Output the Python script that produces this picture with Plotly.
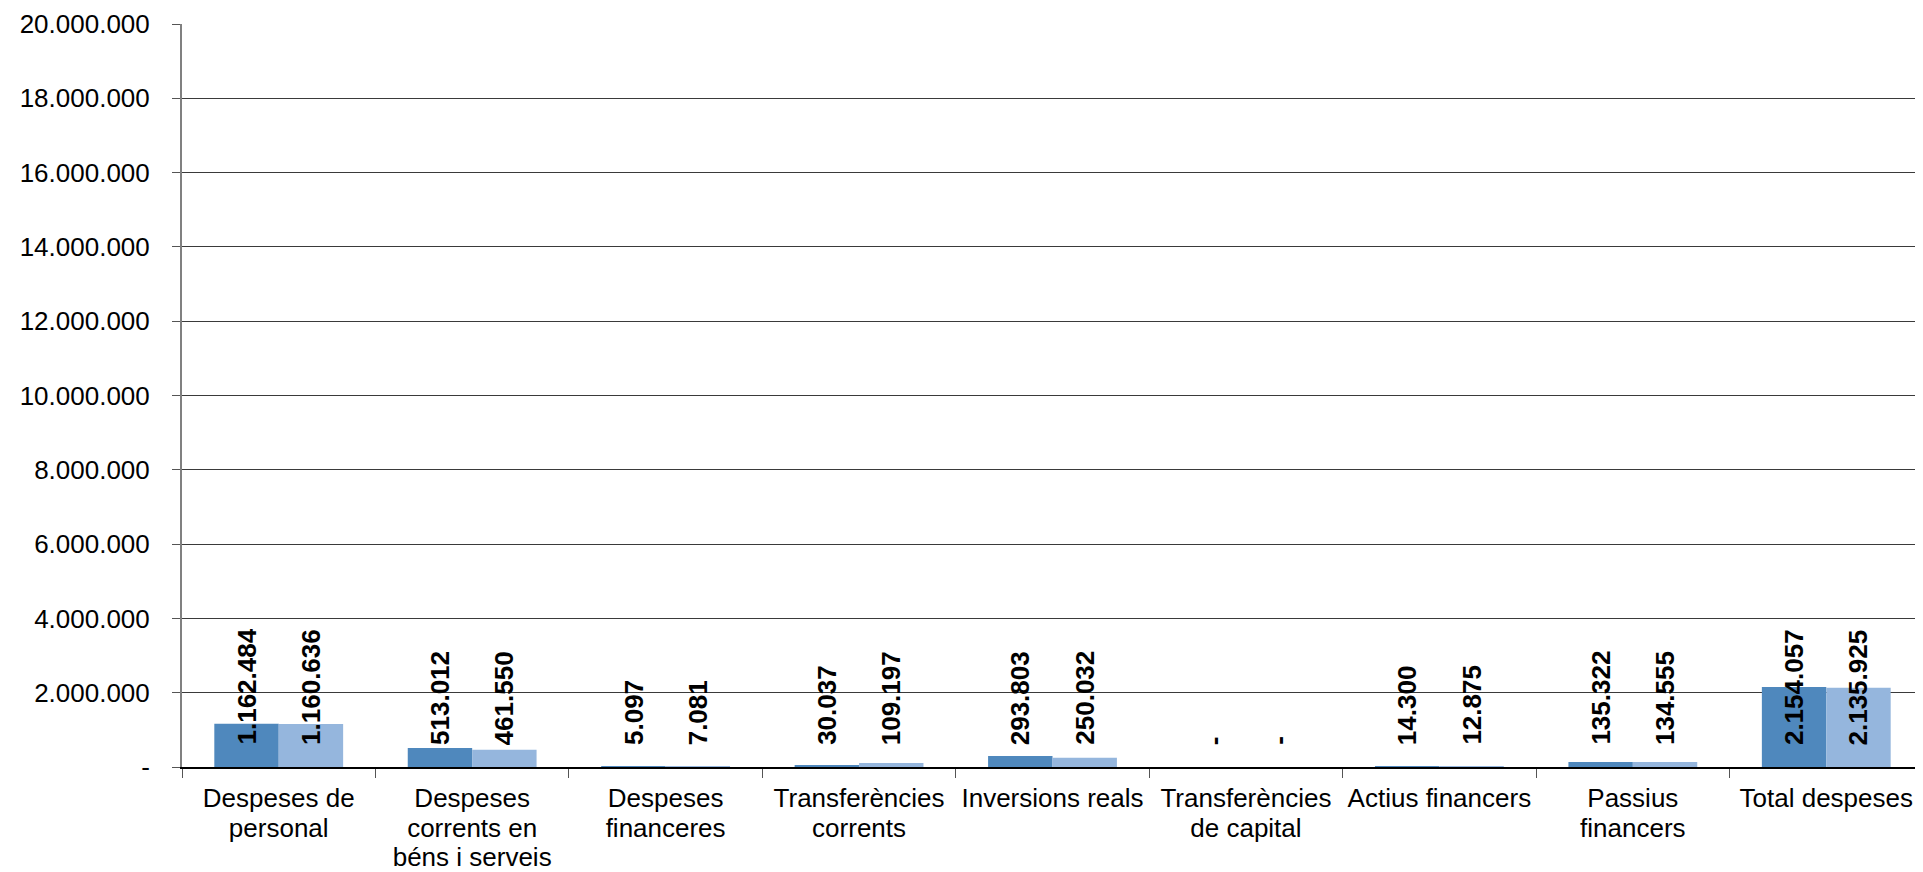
import plotly.graph_objects as go

categories = [
    "Despeses de<br>personal",
    "Despeses<br>corrents en<br>béns i serveis",
    "Despeses<br>financeres",
    "Transferències<br>corrents",
    "Inversions reals",
    "Transferències<br>de capital",
    "Actius financers",
    "Passius<br>financers",
    "Total despeses",
]
serie_1 = [1162484, 513012, 5097, 30037, 293803, 0, 14300, 135322, 2154057]
serie_2 = [1160636, 461550, 7081, 109197, 250032, 0, 12875, 134555, 2135925]
y_ticks = [0, 2000000, 4000000, 6000000, 8000000, 10000000,
           12000000, 14000000, 16000000, 18000000, 20000000]

FONT = "Liberation Sans, Arial, sans-serif"
C1 = "#4F88BD"
C2 = "#95B6DD"
BARGAP = 0.334


def fmt(v):
    if v == 0:
        return "-"
    return f"{v:,.0f}".replace(",", ".")


def cat_label(c):
    return "<br>".join(f'<span style="font-size:26px">{p}</span>' for p in c.split("<br>"))


fig = go.Figure()
fig.add_trace(go.Bar(x=categories, y=serie_1, marker=dict(color=C1, line=dict(width=0)),
                     hoverinfo="y"))
fig.add_trace(go.Bar(x=categories, y=serie_2, marker=dict(color=C2, line=dict(width=0)),
                     hoverinfo="y"))

# data labels (Excel "inside base" style): all start at the base of the bars
off = (1 - BARGAP) / 4
annotations = []
for i in range(len(categories)):
    for v, dx in ((serie_1[i], -off), (serie_2[i], off)):
        annotations.append(dict(
            x=i + dx, y=0, xref="x", yref="y",
            text=fmt(v), textangle=-90, showarrow=False,
            yanchor="bottom", xanchor="center", yshift=20,
            font=dict(family=FONT, size=26, color="#000000", weight="bold"),
        ))

fig.update_layout(
    barmode="group",
    bargap=BARGAP,
    bargroupgap=0,
    showlegend=False,
    width=1915,
    height=864,
    margin=dict(l=174, r=0, t=16, b=105, pad=0),
    plot_bgcolor="white",
    paper_bgcolor="white",
    font=dict(family=FONT, size=26, color="#000000"),
    annotations=annotations,
)
fig.update_xaxes(
    type="category",
    tickvals=categories,
    ticktext=[cat_label(c) for c in categories],
    showline=True, linecolor="#000000", linewidth=2,
    ticks="outside", tickson="boundaries", ticklen=9, tickcolor="#555555", tickwidth=1,
    ticklabelstandoff=10,
    showgrid=False,
    tickfont=dict(family=FONT, size=23, color="#000000"),
)
fig.update_yaxes(
    range=[0, 20000000],
    tickvals=y_ticks,
    ticktext=[fmt(v) for v in y_ticks],
    showline=True, linecolor="#808080", linewidth=2,
    ticks="outside", ticklen=8, tickcolor="#555555", tickwidth=1,
    ticklabelstandoff=17,
    showgrid=True, gridcolor="#3a3a3a", gridwidth=1,
    zeroline=False,
    tickfont=dict(family=FONT, size=26, color="#000000"),
)

fig.write_html("out.html")
